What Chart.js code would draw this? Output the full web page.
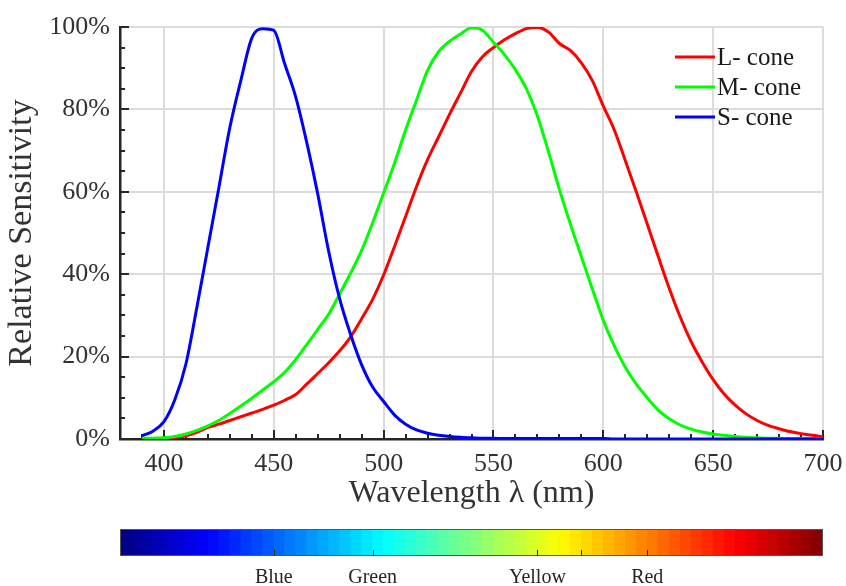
<!DOCTYPE html>
<html>
<head>
<meta charset="utf-8">
<script src="https://cdn.jsdelivr.net/npm/chart.js@4/dist/chart.umd.min.js"></script>
<style>
  body { margin: 0; background: #fff; }
  #wrap { position: relative; width: 846px; height: 586px; }
  #coneChart { position: absolute; left: 0; top: 0; }
  #barChart { position: absolute; left: 0; top: 515px; }
</style>
</head>
<body>
<div id="wrap">
  <canvas id="coneChart" width="846" height="515"></canvas>
  <canvas id="barChart" width="846" height="71"></canvas>
</div>
<script>
const wavelengths = [390, 395, 400, 405, 410, 415, 420, 425, 430, 435, 440, 445, 450, 455, 460, 465, 470, 475, 480, 485,
  490, 495, 500, 505, 510, 515, 520, 525, 530, 535, 540, 545, 550, 555, 560, 565, 570, 575, 580, 585,
  590, 595, 600, 605, 610, 615, 620, 625, 630, 635, 640, 645, 650, 655, 660, 665, 670, 675, 680, 685,
  690, 695, 700];

const lCone = [0.0, 0.05, 0.1, 0.4, 0.8, 1.6, 2.8, 3.6, 4.5, 5.4, 6.3, 7.2, 8.2, 9.4, 10.8, 13.3, 15.9, 18.5, 21.4, 24.8,
  29.2, 33.9, 39.8, 46.8, 54.0, 61.3, 67.8, 73.3, 78.8, 84.0, 89.2, 92.8, 95.0, 96.9, 98.4, 99.6, 99.9, 98.8, 96.0, 94.3,
  91.3, 87.0, 80.8, 75.0, 67.6, 60.0, 52.2, 44.3, 36.6, 29.6, 23.6, 18.7, 14.4, 10.9, 8.2, 6.1, 4.5, 3.3, 2.5, 1.8,
  1.3, 0.9, 0.6];

const mCone = [0.2, 0.2, 0.3, 0.6, 1.2, 2.1, 3.2, 4.5, 6.2, 8.0, 9.9, 11.9, 13.9, 16.2, 19.3, 22.9, 26.6, 30.3, 35.2, 40.3,
  45.8, 52.5, 59.7, 67.0, 75.0, 82.3, 89.5, 94.0, 96.5, 98.3, 99.8, 99.2, 96.3, 93.3, 89.6, 85.0, 78.4, 69.8, 60.6, 52.2,
  44.3, 36.4, 28.8, 22.6, 17.4, 13.3, 10.0, 7.0, 4.9, 3.4, 2.4, 1.7, 1.2, 0.9, 0.6, 0.4, 0.3, 0.2, 0.2, 0.1,
  0.1, 0.1, 0.1];

const sCone = [0.8, 1.9, 4.2, 9.6, 18.2, 32.0, 46.5, 61.0, 75.6, 87.0, 97.3, 99.6, 99.2, 91.0, 83.0, 72.0, 59.5, 45.5, 34.0, 25.3,
  18.0, 12.6, 9.1, 5.8, 3.6, 2.2, 1.4, 0.9, 0.6, 0.4, 0.3, 0.2, 0.2, 0.1, 0.1, 0.1, 0.1, 0.1, 0.1, 0.1,
  0.1, 0.1, 0.1, 0.0, 0.0, 0.0, 0.0, 0.0, 0.0, 0.0, 0.0, 0.0, 0.0, 0.0, 0.0, 0.0, 0.0, 0.0, 0.0, 0.0,
  0.0, 0.0, 0.0];

const xTickValues = [400, 450, 500, 550, 600, 650, 700];
const yTickValues = [0, 20, 40, 60, 80, 100];

// colour bar: 64 cells of the jet map, ticks in cell units
const colorbarCells = [1, 2, 3, 4, 5, 6, 7, 8, 9, 10, 11, 12, 13, 14, 15, 16, 17, 18, 19, 20, 21, 22, 23, 24, 25, 26, 27, 28, 29, 30, 31, 32,
  33, 34, 35, 36, 37, 38, 39, 40, 41, 42, 43, 44, 45, 46, 47, 48, 49, 50, 51, 52, 53, 54, 55, 56, 57, 58, 59, 60, 61, 62, 63, 64];
const colorbarTickValues = [14, 23, 38, 42, 48];
const colorbarTickLabels = ['Blue', 'Green', 'Yellow', '', 'Red'];

const serif = "'Liberation Serif', 'DejaVu Serif', serif";
const textColor = '#333333';
const axisColor = '#262626';

function jet(t) {
  const c = v => Math.round(255 * Math.max(0, Math.min(1, v)));
  return `rgb(${c(1.5 - Math.abs(4 * t - 3))}, ${c(1.5 - Math.abs(4 * t - 2))}, ${c(1.5 - Math.abs(4 * t - 1))})`;
}

function toPoints(values) {
  return wavelengths.map((w, i) => ({ x: w, y: values[i] }));
}

const innerTicks = {
  id: 'innerTicks',
  beforeDatasetsDraw(chart) {
    const { ctx, chartArea, scales: { x, y } } = chart;
    ctx.save();
    ctx.strokeStyle = axisColor;
    ctx.lineWidth = 2;
    ctx.beginPath();
    for (let v = 390; v <= 700; v += 10) {
      const px = Math.round(x.getPixelForValue(v));
      const len = v % 50 === 0 ? 9 : 5;
      ctx.moveTo(px, chartArea.bottom);
      ctx.lineTo(px, chartArea.bottom - len);
    }
    for (let v = 0; v <= 100; v += 5) {
      const py = Math.round(y.getPixelForValue(v));
      const len = v % 20 === 0 ? 9 : 5;
      ctx.moveTo(chartArea.left, py);
      ctx.lineTo(chartArea.left + len, py);
    }
    ctx.stroke();
    ctx.restore();
  }
};

const coneLegend = {
  id: 'coneLegend',
  afterDatasetsDraw(chart) {
    const { ctx, chartArea } = chart;
    const items = chart.data.datasets;
    ctx.save();
    ctx.font = `25px ${serif}`;
    ctx.textBaseline = 'middle';
    ctx.textAlign = 'left';
    items.forEach((ds, i) => {
      const yy = chartArea.top + 30 + i * 30;
      ctx.strokeStyle = ds.borderColor;
      ctx.lineWidth = 3;
      ctx.beginPath();
      ctx.moveTo(chartArea.right - 148, yy);
      ctx.lineTo(chartArea.right - 108, yy);
      ctx.stroke();
      ctx.fillStyle = '#1a1a1a';
      ctx.fillText(ds.label, chartArea.right - 106, yy + 1);
    });
    ctx.restore();
  }
};

new Chart(document.getElementById('coneChart'), {
  type: 'line',
  data: {
    datasets: [
      { label: 'L- cone', data: toPoints(lCone), borderColor: '#ff0000', order: 3 },
      { label: 'M- cone', data: toPoints(mCone), borderColor: '#00ff00', order: 2 },
      { label: 'S- cone', data: toPoints(sCone), borderColor: '#0000ff', order: 1 }
    ]
  },
  options: {
    responsive: false,
    animation: false,
    layout: { padding: { top: 27, right: 23, left: 0, bottom: 0 } },
    elements: {
      line: { borderWidth: 3, cubicInterpolationMode: 'monotone', fill: false },
      point: { radius: 0 }
    },
    plugins: { legend: { display: false }, tooltip: { enabled: false } },
    scales: {
      x: {
        type: 'linear',
        min: 380,
        max: 700,
        afterBuildTicks: s => { s.ticks = xTickValues.map(v => ({ value: v })); },
        afterFit: s => { s.height = 76; s.paddingLeft = 0; s.paddingRight = 0; },
        grid: { color: '#dcdcdc', lineWidth: 2, drawTicks: false },
        border: { color: axisColor, width: 2.5 },
        ticks: { color: textColor, font: { family: serif, size: 26 }, padding: 10, maxRotation: 0, autoSkip: false },
        title: { display: true, text: 'Wavelength λ (nm)', color: textColor, font: { family: serif, size: 32 }, padding: { top: 0, bottom: 2 } }
      },
      y: {
        min: 0,
        max: 100,
        afterBuildTicks: s => { s.ticks = yTickValues.map(v => ({ value: v })); },
        afterFit: s => { s.width = 120; s.paddingTop = 0; s.paddingBottom = 0; },
        grid: { color: '#dcdcdc', lineWidth: 2, drawTicks: false },
        border: { color: axisColor, width: 2.5 },
        ticks: { color: textColor, font: { family: serif, size: 26 }, padding: 10, callback: v => v + '%' },
        title: { display: true, text: 'Relative Sensitivity', color: textColor, font: { family: serif, size: 34 }, padding: { top: 2, bottom: 0 } }
      }
    }
  },
  plugins: [innerTicks, coneLegend]
});

const barFrame = {
  id: 'barFrame',
  afterDatasetsDraw(chart) {
    const { ctx, chartArea, scales: { x } } = chart;
    ctx.save();
    ctx.strokeStyle = '#555555';
    ctx.lineWidth = 1;
    ctx.strokeRect(chartArea.left + 0.5, chartArea.top + 0.5, chartArea.width - 1, chartArea.height - 1);
    ctx.strokeStyle = axisColor;
    ctx.beginPath();
    colorbarTickValues.forEach(v => {
      const px = Math.round(x.getPixelForValue(v)) + 0.5;
      ctx.moveTo(px, chartArea.bottom);
      ctx.lineTo(px, chartArea.bottom - 6);
    });
    ctx.stroke();
    ctx.restore();
  }
};

new Chart(document.getElementById('barChart'), {
  type: 'bar',
  data: {
    datasets: [{
      data: colorbarCells.map(c => ({ x: c - 0.5, y: 1 })),
      backgroundColor: colorbarCells.map(c => jet((c - 0.5) / colorbarCells.length)),
      borderWidth: 0,
      barPercentage: 1,
      categoryPercentage: 1
    }]
  },
  options: {
    responsive: false,
    animation: false,
    layout: { padding: { top: 14, right: 23, left: 120, bottom: 0 } },
    plugins: { legend: { display: false }, tooltip: { enabled: false } },
    scales: {
      x: {
        type: 'linear',
        min: 0,
        max: 64,
        offset: false,
        afterBuildTicks: s => { s.ticks = colorbarTickValues.map(v => ({ value: v })); },
        afterFit: s => { s.height = 30; s.paddingLeft = 0; s.paddingRight = 0; },
        grid: { display: false },
        border: { display: false },
        ticks: {
          color: axisColor,
          font: { family: serif, size: 20 },
          padding: 2,
          maxRotation: 0,
          autoSkip: false,
          callback: (v, i) => colorbarTickLabels[i]
        }
      },
      y: { display: false, min: 0, max: 1 }
    }
  },
  plugins: [barFrame]
});
</script>
</body>
</html>
